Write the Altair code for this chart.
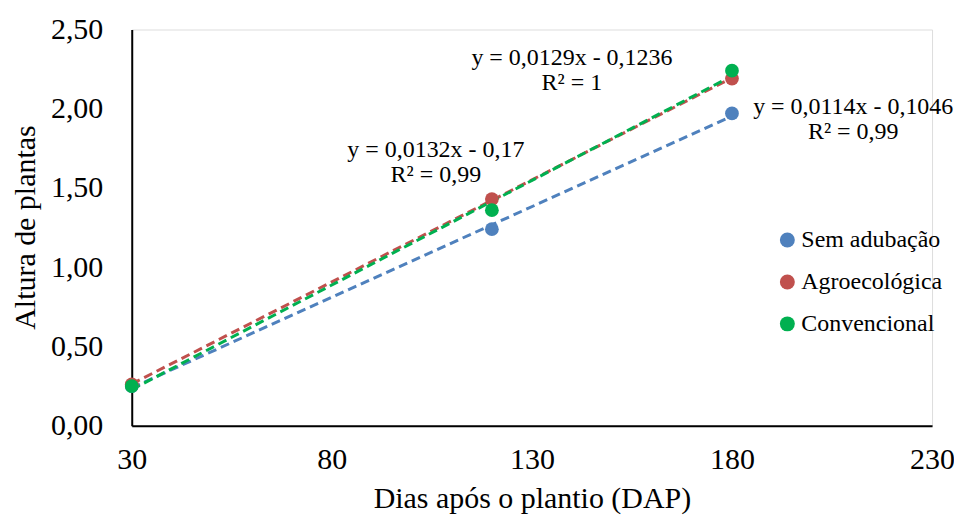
import altair as alt
import pandas as pd

# Data
dias = [30, 120, 180]
series_names = ["Sem adubação", "Agroecológica", "Convencional"]
sem_adubacao = [0.25, 1.24, 1.97]
agroecologica = [0.26, 1.43, 2.19]
convencional = [0.25, 1.36, 2.24]
colors = ["#4F81BD", "#C0504D", "#00B050"]

x_ticks = [30, 80, 130, 180, 230]

# Trendline equation labels
eq_text = [
    "y = 0,0114x - 0,1046\nR² = 0,99",
    "y = 0,0129x - 0,1236\nR² = 1",
    "y = 0,0132x - 0,17\nR² = 0,99",
]
eq_x = [210.3, 140.0, 106.0]
eq_y = [2.009, 2.317, 1.738]

rows = []
for name, vals in zip(series_names, [sem_adubacao, agroecologica, convencional]):
    for d, v in zip(dias, vals):
        rows.append({"Dias": d, "Altura": v, "Tratamento": name})
df = pd.DataFrame(rows)
ann = pd.DataFrame({"x": eq_x, "y": eq_y, "text": eq_text})

FONT = "Liberation Serif"

xscale = alt.Scale(domain=[30, 230], nice=False, zero=False)
yscale = alt.Scale(domain=[0, 2.5], nice=False)
cscale = alt.Scale(domain=series_names, range=colors)

xaxis = alt.Axis(
    values=x_ticks, title="Dias após o plantio (DAP)", grid=False, ticks=False,
    labelFontSize=30, labelFont=FONT, labelColor="black", labelPadding=19,
    labelFlush=False,
    titleFont=FONT, titleFontSize=30, titleFontWeight="normal", titleColor="black",
    titleY=73, titleBaseline="middle",
    domainColor="black", domainWidth=2,
)
yaxis = alt.Axis(
    values=[0, 0.5, 1.0, 1.5, 2.0, 2.5], title="Altura de plantas", grid=False, ticks=False,
    labelExpr="replace(format(datum.value, '.2f'), '.', ',')",
    labelFontSize=30, labelFont=FONT, labelColor="black", labelPadding=29,
    labelFlush=False,
    titleFont=FONT, titleFontSize=30, titleFontWeight="normal", titleColor="black",
    titleX=-106, titleY=198, titleBaseline="middle", titleAngle=-90,
    domainColor="black", domainWidth=2,
)

base = alt.Chart(df)

lines = base.transform_regression(
    "Dias", "Altura", groupby=["Tratamento"]
).mark_line(strokeWidth=3, strokeDash=[9, 5]).encode(
    x=alt.X("Dias:Q", scale=xscale, axis=xaxis),
    y=alt.Y("Altura:Q", scale=yscale, axis=yaxis),
    color=alt.Color("Tratamento:N", scale=cscale, legend=None),
)

points = base.mark_circle(size=190, opacity=1).encode(
    x=alt.X("Dias:Q", scale=xscale),
    y=alt.Y("Altura:Q", scale=yscale),
    color=alt.Color(
        "Tratamento:N", scale=cscale,
        legend=alt.Legend(
            title=None, orient="none", legendX=645, legendY=199,
            symbolType="circle", symbolSize=225, symbolStrokeWidth=0,
            symbolOpacity=1,
            labelFont=FONT, labelFontSize=24, labelColor="black",
            labelOffset=2, rowPadding=18, padding=0,
        ),
    ),
)

labels = alt.Chart(ann).mark_text(
    font=FONT, fontSize=24, color="black", lineBreak="\n", lineHeight=25,
    align="center", baseline="middle",
).encode(
    x=alt.X("x:Q", scale=xscale),
    y=alt.Y("y:Q", scale=yscale),
    text="text:N",
)

chart = alt.layer(lines, points, labels).resolve_legend(
    color="independent"
).properties(
    width=802, height=397,
    autosize=alt.AutoSizeParams(type="none"),
    padding={"left": 124, "top": 21, "right": 22, "bottom": 89},
).configure_view(stroke=None).configure_legend(
    labelFont=FONT, labelFontSize=24, labelColor="black"
).configure(background="white", font=FONT)

chart.save("out.html", embed_options={"renderer": "svg", "actions": False})
